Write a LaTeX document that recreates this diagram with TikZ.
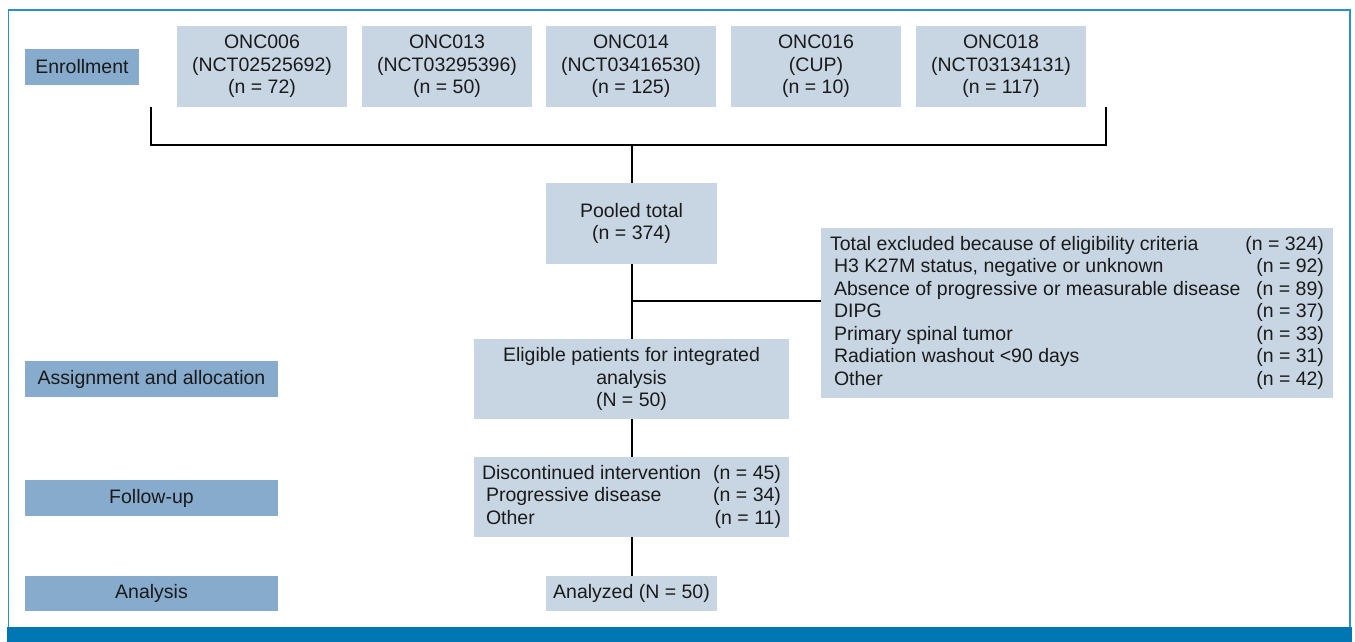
\documentclass[tikz,border=0pt]{standalone}
\usepackage{fontspec}
\setmainfont{Liberation Sans}
\definecolor{lightbox}{HTML}{C8D6E4}
\definecolor{labelbox}{HTML}{87ABCC}
\definecolor{framec}{HTML}{2A8FCF}
\definecolor{barc}{HTML}{0077B3}
\definecolor{txt}{HTML}{1A1A1A}
\begin{document}
\begin{tikzpicture}[x=1pt,y=-1pt,
  every node/.style={font=\fontsize{19.5}{22.5}\selectfont, text=txt, inner sep=0pt},
  lbox/.style={fill=lightbox, align=center},
  tagbox/.style={fill=labelbox, align=center, minimum height=36pt},
  conn/.style={line width=2pt, black}]
\useasboundingbox (0,0) rectangle (1355,642);
\fill[white] (0,0) rectangle (1355,642);
\draw[framec, line width=1.5pt] (8.5,10) rectangle (1350,632);
\fill[barc] (7,627) rectangle (1352,642);

% stage labels
\node[tagbox, minimum width=114pt] (enr) at (82,67) {Enrollment};
\node[tagbox, minimum width=253pt] (assign) at (151.5,379) {Assignment and allocation};
\node[tagbox, minimum width=253pt] (follow) at (151.5,498) {Follow-up};
\node[tagbox, minimum width=253pt, minimum height=35pt] (analysis) at (151.5,593.5) {Analysis};

% trials
\node[lbox, minimum width=170pt, minimum height=81pt] (o1) at (262,66.5) {ONC006\\(NCT02525692)\\(n = 72)};
\node[lbox, minimum width=170pt, minimum height=81pt] (o2) at (447,66.5) {ONC013\\(NCT03295396)\\(n = 50)};
\node[lbox, minimum width=170pt, minimum height=81pt] (o3) at (631,66.5) {ONC014\\(NCT03416530)\\(n = 125)};
\node[lbox, minimum width=170pt, minimum height=81pt] (o4) at (816,66.5) {ONC016\\(CUP)\\(n = 10)};
\node[lbox, minimum width=170pt, minimum height=81pt] (o5) at (1001,66.5) {ONC018\\(NCT03134131)\\(n = 117)};

\node[lbox, minimum width=171pt, minimum height=81pt] (pool) at (631.5,223.5) {Pooled total\\(n = 374)};

\node[lbox, minimum width=512pt, minimum height=170pt] (excl) at (1077,313) {%
\begin{tabular*}{494pt}{@{}l@{\extracolsep{\fill}}r@{}}
Total excluded because of eligibility criteria & (n = 324)\\
\hspace{4pt}H3 K27M status, negative or unknown & (n = 92)\\
\hspace{4pt}Absence of progressive or measurable disease & (n = 89)\\
\hspace{4pt}DIPG & (n = 37)\\
\hspace{4pt}Primary spinal tumor & (n = 33)\\
\hspace{4pt}Radiation washout <90 days & (n = 31)\\
\hspace{4pt}Other & (n = 42)
\end{tabular*}};

\node[lbox, minimum width=315pt, minimum height=80pt] (elig) at (631.5,379) {Eligible patients for integrated\\analysis\\(N = 50)};

\node[lbox, minimum width=315pt, minimum height=80pt] (disc) at (631.5,497) {%
\begin{tabular*}{299pt}{@{}l@{\extracolsep{\fill}}r@{}}
Discontinued intervention & (n = 45)\\
\hspace{4pt}Progressive disease & (n = 34)\\
\hspace{4pt}Other & (n = 11)
\end{tabular*}};

\node[lbox, minimum width=171pt, minimum height=35pt] (anal) at (631.5,593.5) {Analyzed (N = 50)};

% connectors
\coordinate (bl) at (151,107);
\coordinate (br) at (1106,107);
\coordinate (bbl) at (151,145);
\coordinate (bbr) at (1106,145);
\coordinate (bmid) at (631.5,145);
\coordinate (branch) at (631.5,301);
\draw[conn] (bl) -- (bbl) -- (bbr) -- (br);
\draw[conn] (bmid) -- (pool.north);
\draw[conn] (pool.south) -- (elig.north);
\draw[conn] (branch) -- (branch -| excl.west);
\draw[conn] (elig.south) -- (disc.north);
\draw[conn] (disc.south) -- (anal.north);
\end{tikzpicture}
\end{document}
